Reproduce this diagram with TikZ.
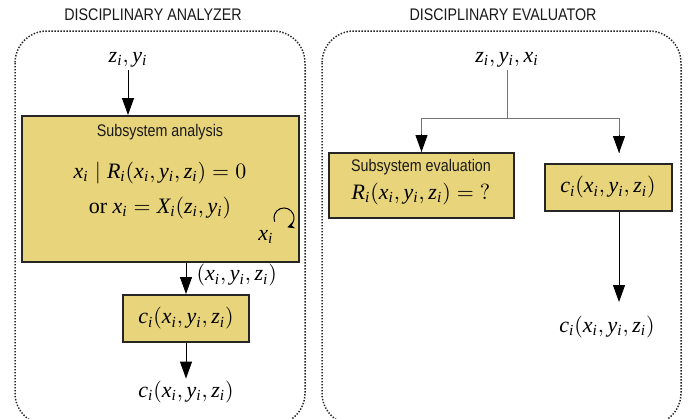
\documentclass[tikz,border=0pt]{standalone}
\usepackage{fontspec}
\setmainfont{Liberation Serif}
\newfontfamily\headfont[FakeStretch=0.85]{Liberation Sans}
\usetikzlibrary{arrows.meta, positioning}
\definecolor{boxfill}{RGB}{232,212,122}
\newcommand\vi[1]{\mathit{#1}_{\mathit{i}}}

\tikzset{
	frame/.style={draw=black!85, dash pattern=on 0.7pt off 0.8pt, line width=0.75pt, rounded corners=16pt},
	box/.style={draw=black!85, line width=1pt, fill=boxfill, inner sep=0pt},
	head/.style={font=\headfont\fontsize{8.4}{10}\selectfont, text=black!90},
	var/.style={font=\fontsize{11}{13}\selectfont, inner sep=1pt},
	branch/.style={draw=black!55},
}

\begin{document}
\begin{tikzpicture} [x=0.5pt, y=-0.5pt, line width=0.5pt, >={Triangle[length=8.5pt, width=6pt]}]

\useasboundingbox (0,0) rectangle (688,418);
\clip (0,0) rectangle (688,418);

% the two dotted frames
\draw[frame]	(15,31) rectangle (305,425);
\draw[frame]	(322,31) rectangle (681,425);

\node[head]	(analyzer)	at (153,15)	{DISCIPLINARY ANALYZER};
\node[head]	(evaluator)	at (503,15)	{DISCIPLINARY EVALUATOR};

% analyzer
\node[var]	(in1)		at (128,60)	{$\vi{z}, \vi{y}$};
\node[box, minimum width=138.5pt, minimum height=73pt]	(ana)	at (160.5,189)	{};
\node[head]	(anatitle)	at (160,132)	{Subsystem analysis};
\node[var]	(anaeq)		at (160,173)	{$\vi{x} \mid \vi{R}(\vi{x}, \vi{y}, \vi{z}) = 0$};
\node[var]	(anaalt)	at (160,208)	{or $\vi{x} = \vi{X}(\vi{z}, \vi{y})$};
\node[var]	(loopvar)	at (266,237)	{$\vi{x}$};
\draw[-{Stealth[length=3.5pt, width=3.5pt]}]	(274.7,221.7) arc[start angle=158, end angle=430, radius=10];
\node[box, var, minimum width=63pt, minimum height=23.5pt]	(c1)	at (186,318.5)	{$\vi{c}(\vi{x}, \vi{y}, \vi{z})$};
\node[var]	(out1)		at (186,392)	{$\vi{c}(\vi{x}, \vi{y}, \vi{z})$};

\path[->]
		(in1.south)		edge	(in1.south |- ana.north)
		(c1.north |- ana.south)	edge	node[var, right=4pt, pos=.4]	{$(\vi{x}, \vi{y}, \vi{z})$}	(c1.north)
		(c1.south)		edge	(out1.north)
;

% evaluator
\node[var]	(in2)		at (507,60)	{$\vi{z}, \vi{y}, \vi{x}$};
\coordinate	(split)		at (507,118);
\node[box, minimum width=92.5pt, minimum height=32.5pt]	(ev)	at (421.5,185.5)	{};
\node[head]	(evtitle)	at (421,167)	{Subsystem evaluation};
\node[var]	(eveq)		at (421,194)	{$\vi{R}(\vi{x}, \vi{y}, \vi{z}) = \mathrm{?}$};
\node[box, var, minimum width=63.5pt, minimum height=23.5pt]	(c2)	at (608,187.5)	{$\vi{c}(\vi{x}, \vi{y}, \vi{z})$};
\coordinate	(c2in)		at (619,153);
\coordinate	(c2out)		at (619,302);
\node[var]	(out2)		at (607,327)	{$\vi{c}(\vi{x}, \vi{y}, \vi{z})$};

\draw[branch]	(in2.south) -- (split);
\draw[branch]	(split) -| (ev.north);
\draw[branch]	(split) -| (c2in);
\draw[->]	([yshift=9pt]ev.north) -- (ev.north);
\draw[->]	([yshift=9pt]c2in) -- (c2in);
\draw[->]	(c2.south -| c2in) -- (c2out);

\end{tikzpicture}
\end{document}
